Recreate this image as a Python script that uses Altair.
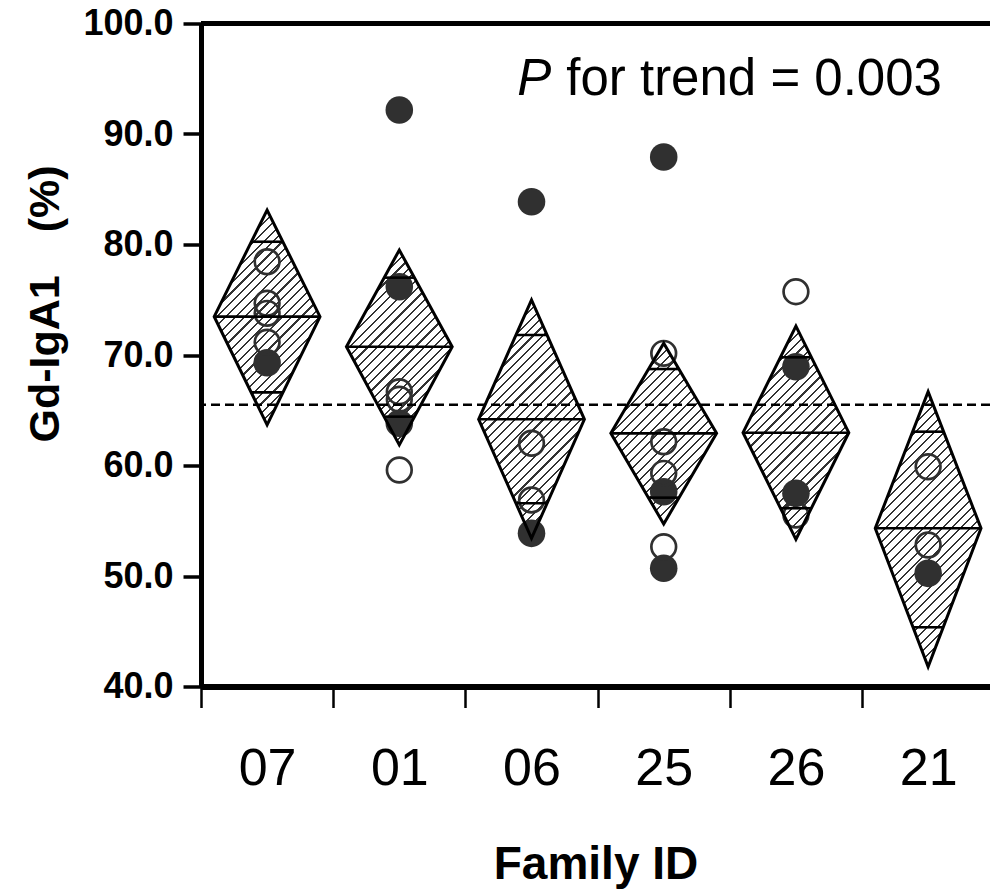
import altair as alt
import pandas as pd

# ---------------- data ----------------
families = ["07", "01", "06", "25", "26", "21"]

diamond_mean = [73.47, 70.75, 64.18, 62.91, 62.97, 54.32]
diamond_top = [83.12, 79.50, 74.98, 71.06, 72.62, 66.68]
diamond_bottom = [63.67, 61.86, 53.41, 54.71, 53.32, 41.79]
overlap_top = [80.25, 77.00, 71.81, 68.73, 69.79, 63.06]
overlap_bottom = [66.62, 64.42, 56.58, 57.09, 56.13, 45.36]

open_family = ["07", "07", "07", "07",
               "01", "01", "01",
               "06", "06",
               "25", "25", "25", "25",
               "26", "26",
               "21", "21"]
open_value = [78.44, 74.68, 73.77, 71.15,
              66.68, 65.99, 59.59,
              62.01, 56.88,
              70.15, 62.15, 59.29, 52.65,
              75.73, 55.52,
              59.89, 52.81]

filled_family = ["07",
                 "01", "01", "01",
                 "06", "06",
                 "25", "25", "25",
                 "26", "26",
                 "21"]
filled_value = [69.30,
                92.17, 76.18, 63.82,
                83.87, 53.86,
                87.92, 57.63, 50.70,
                68.94, 57.48,
                50.24]

reference_value = 65.5
trend_p = "P"
trend_text = "for trend = 0.003"

y_ticks = [40, 50, 60, 70, 80, 90, 100]

# ---------------- layout / style ----------------
FONT = "Liberation Sans"
INK = "#303030"
X_DOMAIN = [0.5, 6.468]
Y_DOMAIN = [40, 100]
PLOT_W = 789
PLOT_H = 663
HALF = 0.4  # diamond half width in category units
PX_X = PLOT_W / (X_DOMAIN[1] - X_DOMAIN[0])
PX_Y = PLOT_H / (Y_DOMAIN[1] - Y_DOMAIN[0])

idx = {f: i + 1 for i, f in enumerate(families)}

X_SCALE = alt.Scale(domain=X_DOMAIN, nice=False, zero=False)
Y_SCALE = alt.Scale(domain=Y_DOMAIN, nice=False, zero=False)

fam_js = "[" + ",".join(f"'{f}'" for f in families) + "]"
x_axis = alt.Axis(
    values=[i + 0.5 for i in range(len(families))],
    labelExpr=f"{fam_js}[round(datum.value - 0.5)]",
    labelOffset=PX_X / 2,
    labelFontSize=52,
    labelFont=FONT,
    labelFontWeight="normal",
    labelPadding=77,
    labelBaseline="alphabetic",
    labelFlush=False,
    labelOverlap=False,
    labelBound=False,
    tickSize=21,
    tickWidth=2.5,
    tickColor="black",
    domainWidth=6,
    domainColor="black",
    grid=False,
    title="Family ID",
    titleFont=FONT,
    titleFontSize=46,
    titleFontWeight="bold",
    titleY=191.5,
    titleBaseline="alphabetic",
    titleColor="black",
    labelColor="black",
)
y_axis = alt.Axis(
    values=y_ticks,
    format=".1f",
    labelFont=FONT,
    labelFontSize=36,
    labelFontWeight="bold",
    labelPadding=10,
    labelColor="black",
    tickSize=18,
    tickWidth=3.5,
    tickColor="black",
    domainWidth=5,
    domainColor="black",
    grid=False,
    title="Gd-IgA1\u2003(%)",
    titleFont=FONT,
    titleFontSize=43,
    titleFontWeight="bold",
    titleColor="black",
    titleAngle=270,
    titleX=-156,
    titleY=280,
    titleAlign="center",
    titleBaseline="middle",
)


def X(field):
    return alt.X(field, type="quantitative", scale=X_SCALE, axis=x_axis)


def Y(field):
    return alt.Y(field, type="quantitative", scale=Y_SCALE, axis=y_axis)


def hatch(h_px, w_px, period=9.4, line=2.1, ink="#333333"):
    total = w_px + h_px
    d = w_px ** 2 + h_px ** 2
    x2 = w_px * total / d
    y2 = h_px * total / d
    stops = [alt.GradientStop(offset=0, color="white")]
    f = period / 2
    while f < total:
        a = f / total
        b = min((f + line) / total, 1.0)
        stops += [
            alt.GradientStop(offset=a, color="white"),
            alt.GradientStop(offset=a, color=ink),
            alt.GradientStop(offset=b, color=ink),
            alt.GradientStop(offset=b, color="white"),
        ]
        f += period
    stops.append(alt.GradientStop(offset=1, color="white"))
    return alt.Gradient(gradient="linear", x1=0, y1=0, x2=x2, y2=y2, stops=stops)


# ---------------- tables ----------------
dia_rows = []
rule_rows = []
for f, m, t, b, ot, ob in zip(families, diamond_mean, diamond_top, diamond_bottom,
                              overlap_top, overlap_bottom):
    i = idx[f]
    dia_rows += [
        {"family": f, "x": i - HALF, "hi": m, "lo": m},
        {"family": f, "x": i, "hi": t, "lo": b},
        {"family": f, "x": i + HALF, "hi": m, "lo": m},
    ]
    rule_rows.append({"family": f, "x": i - HALF, "x2": i + HALF, "y": m})
    ht = HALF * (t - ot) / (t - m)
    hb = HALF * (ob - b) / (m - b)
    rule_rows.append({"family": f, "x": i - ht, "x2": i + ht, "y": ot})
    rule_rows.append({"family": f, "x": i - hb, "x2": i + hb, "y": ob})
dia_df = pd.DataFrame(dia_rows)
rule_df = pd.DataFrame(rule_rows)

open_df = pd.DataFrame({"x": [idx[f] for f in open_family], "y": open_value})
filled_df = pd.DataFrame({"x": [idx[f] for f in filled_family], "y": filled_value})

ann_p = pd.DataFrame({"x": [2.893], "y": [93.53], "t": [trend_p]})
ann_t = pd.DataFrame({"x": [3.263], "y": [93.53], "t": [trend_text]})

# ---------------- layers ----------------
layers = []
for f, t, b in zip(families, diamond_top, diamond_bottom):
    sub = dia_df[dia_df["family"] == f]
    g = hatch((t - b) * PX_Y, 2 * HALF * PX_X)
    layers.append(
        alt.Chart(sub).mark_area(fill=g, strokeWidth=0, interpolate="linear").encode(
            x=X("x"), y=Y("hi"), y2="lo"
        )
    )

filled_pts = alt.Chart(filled_df).mark_circle(color=INK, opacity=1, size=760).encode(
    x=X("x"), y=Y("y")
)
open_pts = alt.Chart(open_df).mark_point(
    shape="circle", filled=False, stroke=INK, strokeWidth=2.7, size=610, opacity=1
).encode(x=X("x"), y=Y("y"))

outline = alt.Chart(dia_df).mark_area(
    fillOpacity=0, stroke="black", strokeWidth=3, strokeJoin="miter", interpolate="linear"
).encode(x=X("x"), y=Y("hi"), y2="lo", detail="family:N")

inner = alt.Chart(rule_df).mark_rule(color="black", strokeWidth=2.6).encode(
    x=X("x"), x2="x2", y=Y("y")
)

dashed = alt.Chart(pd.DataFrame({"y": [reference_value]})).mark_rule(
    color="black", strokeWidth=2.6, strokeDash=[9, 5]
).encode(y=Y("y"))

top_border = alt.Chart(pd.DataFrame({"y": [Y_DOMAIN[1]]})).mark_rule(
    color="black", strokeWidth=5
).encode(y=Y("y"))

txt_p = alt.Chart(ann_p).mark_text(
    font=FONT, fontSize=51, fontStyle="italic", align="left", baseline="alphabetic", color="black"
).encode(x=X("x"), y=Y("y"), text="t:N")
txt_t = alt.Chart(ann_t).mark_text(
    font=FONT, fontSize=51, align="left", baseline="alphabetic", color="black"
).encode(x=X("x"), y=Y("y"), text="t:N")

chart = alt.layer(
    *layers, filled_pts, open_pts, outline, inner, dashed, top_border, txt_p, txt_t
).properties(
    width=PLOT_W,
    height=PLOT_H,
    autosize=alt.AutoSizeParams(type="none"),
    padding={"left": 201, "top": 23.5, "right": 0, "bottom": 207.5},
    background="white",
).configure_view(strokeWidth=0)

chart.save("out.html", embed_options={"renderer": "svg", "actions": False})
